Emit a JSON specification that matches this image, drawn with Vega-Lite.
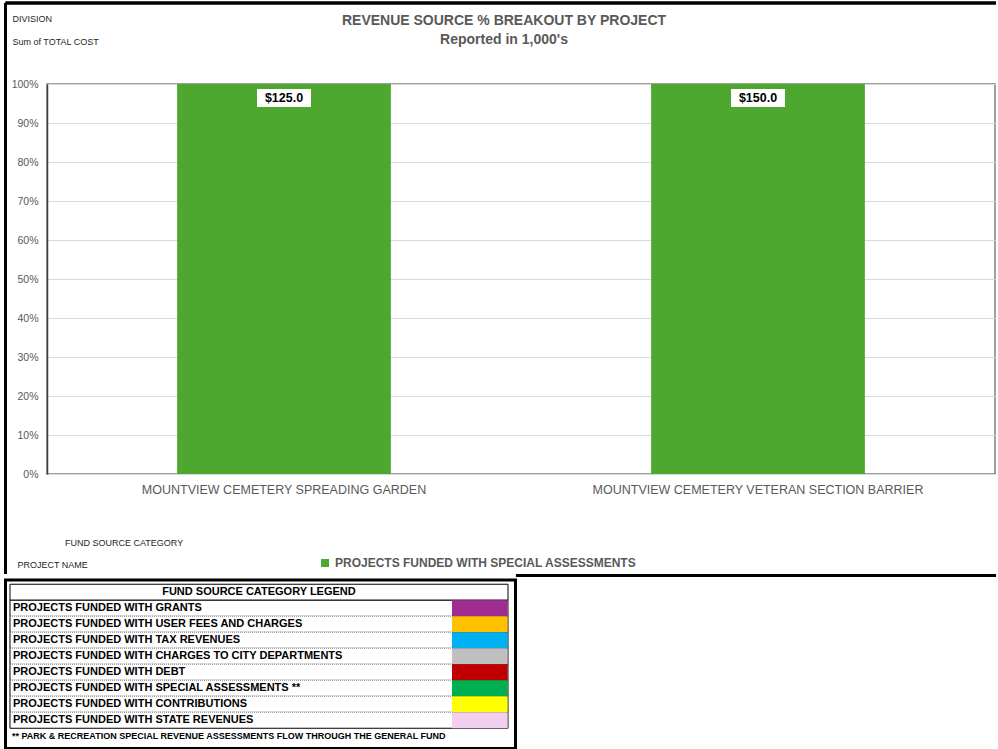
{
  "$schema": "https://vega.github.io/schema/vega-lite/v6.json",
  "background": "white",
  "padding": {"left": 3, "top": 0, "right": 0, "bottom": 0},
  "spacing": 0,
  "resolve": {"scale": {"color": "independent", "x": "independent", "y": "independent"}},
  "config": {"font": "Liberation Sans"},
  "vconcat": [
    {
      "width": 948,
      "height": 390,
      "view": {"stroke": "#808080", "strokeWidth": 1.5},
      "title": {
        "text": "REVENUE SOURCE % BREAKOUT BY PROJECT",
        "subtitle": "Reported in 1,000's",
        "anchor": "middle",
        "dx": -17,
        "offset": -45.5,
        "fontSize": 14,
        "subtitleFontSize": 14,
        "fontWeight": "bold",
        "subtitleFontWeight": "bold",
        "color": "#595959",
        "subtitleColor": "#595959",
        "subtitlePadding": 5,
        "font": "Liberation Sans",
        "subtitleFont": "Liberation Sans"
      },
      "data": {
        "values": [
          {"project": "MOUNTVIEW CEMETERY SPREADING GARDEN", "category": "PROJECTS FUNDED WITH SPECIAL ASSESSMENTS", "cost": 125},
          {"project": "MOUNTVIEW CEMETERY VETERAN SECTION BARRIER", "category": "PROJECTS FUNDED WITH SPECIAL ASSESSMENTS", "cost": 150}
        ]
      },
      "resolve": {"scale": {"x": "independent", "y": "independent"}},
      "layer": [
        {
          "encoding": {
            "x": {
              "field": "project",
              "type": "nominal",
              "sort": null,
              "scale": {"paddingInner": 0.549, "paddingOuter": 0.2745},
              "axis": {
                "title": "PROJECT NAME",
                "titleAlign": "left",
                "titleAnchor": "start",
                "titleX": -30,
                "titleY": 90,
                "titleBaseline": "middle",
                "titleFontSize": 9,
                "titleFontWeight": "normal",
                "titleColor": "#262626",
                "labelAngle": 0,
                "labelFontSize": 12.5,
                "labelColor": "#595959",
                "labelPadding": 9,
                "labelLimit": 400,
                "ticks": false,
                "domainColor": "#d9d9d9",
                "grid": false
              }
            },
            "y": {
              "field": "cost",
              "type": "quantitative",
              "aggregate": "sum",
              "stack": "normalize",
              "scale": {"domain": [0, 1]},
              "axis": {
                "values": [0, 0.1, 0.2, 0.3, 0.4, 0.5, 0.6, 0.7, 0.8, 0.9, 1],
                "format": ".0%",
                "title": ["DIVISION", "Sum of TOTAL COST"],
                "titleAngle": 0,
                "titleAlign": "left",
                "titleBaseline": "top",
                "titleX": -35,
                "titleY": -70,
                "titleFontSize": 9,
                "titleFontWeight": "normal",
                "titleColor": "#262626",
                "titleLineHeight": 23,
                "labelFontSize": 10.5,
                "labelColor": "#595959",
                "labelPadding": 9,
                "ticks": false,
                "domainColor": "#404040",
                "domainWidth": 1.5,
                "gridColor": "#d9d9d9",
                "gridWidth": 1
              }
            }
          },
          "layer": [
            {
              "mark": {"type": "bar"},
              "encoding": {
                "color": {
                  "field": "category",
                  "type": "nominal",
                  "scale": {"domain": ["PROJECTS FUNDED WITH SPECIAL ASSESSMENTS"], "range": ["#4ea72e"]},
                  "legend": {
                    "orient": "none",
                    "legendX": 18,
                    "legendY": 455,
                    "title": "FUND SOURCE CATEGORY",
                    "titleFontSize": 9,
                    "titleFontWeight": "normal",
                    "titleColor": "#262626",
                    "titleFont": "Liberation Sans",
                    "titlePadding": 9,
                    "labelFontSize": 12,
                    "labelFontWeight": "bold",
                    "labelColor": "#595959",
                    "labelFont": "Liberation Sans",
                    "labelLimit": 500,
                    "symbolType": "square",
                    "symbolSize": 64,
                    "symbolOffset": 254,
                    "symbolStrokeWidth": 0
                  }
                }
              }
            },
            {
              "mark": {"type": "point", "shape": "M-1,-0.33H1V0.33H-1Z", "filled": true, "fill": "white", "opacity": 1, "size": 2916, "yOffset": 14, "strokeWidth": 0},
              "encoding": {"detail": {"field": "category"}}
            },
            {
              "mark": {"type": "text", "yOffset": 14, "fontWeight": "bold", "fontSize": 12.5, "color": "black", "font": "Liberation Sans"},
              "encoding": {
                "detail": {"field": "category"},
                "text": {"field": "cost", "aggregate": "sum", "format": "$.1f"}
              }
            }
          ]
        },
        {
          "layer": [
            {
              "mark": {"type": "rule", "color": "black", "strokeWidth": 3},
              "encoding": {
                "x": {"datum": -0.04378, "type": "quantitative", "scale": {"domain": [0, 1], "nice": false, "zero": false}, "axis": null},
                "y": {"datum": 1.2077, "type": "quantitative", "scale": {"domain": [0, 1], "nice": false, "zero": false}, "axis": null},
                "y2": {"datum": -0.25641}
              }
            },
            {
              "mark": {"type": "rule", "color": "black", "strokeWidth": 3},
              "encoding": {
                "x": {"datum": -0.04378, "type": "quantitative"},
                "x2": {"datum": 1.0011},
                "y": {"datum": 1.2077, "type": "quantitative"}
              }
            },
            {
              "mark": {"type": "rule", "color": "black", "strokeWidth": 3},
              "encoding": {
                "x": {"datum": 0.4947, "type": "quantitative"},
                "x2": {"datum": 1.0011},
                "y": {"datum": -0.26026, "type": "quantitative"}
              }
            }
          ]
        }
      ]
    },
    {
      "width": 468.5,
      "height": 168.5,
      "view": {"stroke": null},
      "data": {
        "values": [
          {"row": "FUND SOURCE CATEGORY LEGEND", "kind": "header"},
          {"row": "PROJECTS FUNDED WITH GRANTS", "kind": "item"},
          {"row": "PROJECTS FUNDED WITH USER FEES AND CHARGES", "kind": "item"},
          {"row": "PROJECTS FUNDED WITH TAX REVENUES", "kind": "item"},
          {"row": "PROJECTS FUNDED WITH CHARGES TO CITY DEPARTMENTS", "kind": "item"},
          {"row": "PROJECTS FUNDED WITH DEBT", "kind": "item"},
          {"row": "PROJECTS FUNDED WITH SPECIAL ASSESSMENTS  **", "kind": "item"},
          {"row": "PROJECTS FUNDED WITH CONTRIBUTIONS", "kind": "item"},
          {"row": "PROJECTS FUNDED WITH STATE REVENUES", "kind": "item"},
          {"row": "** PARK & RECREATION SPECIAL REVENUE ASSESSMENTS FLOW THROUGH THE GENERAL FUND", "kind": "note"}
        ]
      },
      "layer": [
        {
          "transform": [{"filter": "datum.kind != 'note'"}],
          "mark": {"type": "rect", "fill": "white", "stroke": "black", "strokeWidth": 1},
          "encoding": {
            "x": {"datum": 0.00882, "type": "quantitative", "scale": {"domain": [0.081373, 1], "nice": false, "zero": false}, "axis": null},
            "x2": {"datum": 0.98529},
            "y": {
              "field": "row",
              "type": "nominal",
              "scale": {
                "domain": [
                  "FUND SOURCE CATEGORY LEGEND",
                  "PROJECTS FUNDED WITH GRANTS",
                  "PROJECTS FUNDED WITH USER FEES AND CHARGES",
                  "PROJECTS FUNDED WITH TAX REVENUES",
                  "PROJECTS FUNDED WITH CHARGES TO CITY DEPARTMENTS",
                  "PROJECTS FUNDED WITH DEBT",
                  "PROJECTS FUNDED WITH SPECIAL ASSESSMENTS  **",
                  "PROJECTS FUNDED WITH CONTRIBUTIONS",
                  "PROJECTS FUNDED WITH STATE REVENUES",
                  "** PARK & RECREATION SPECIAL REVENUE ASSESSMENTS FLOW THROUGH THE GENERAL FUND"
                ],
                "paddingInner": 0,
                "paddingOuter": 0.2656
              },
              "axis": null
            }
          }
        },
        {
          "transform": [{"filter": "datum.kind == 'item' && datum.row != 'PROJECTS FUNDED WITH GRANTS'"}],
          "mark": {"type": "rule", "color": "white", "strokeWidth": 2},
          "encoding": {
            "x": {"datum": 0.0105, "type": "quantitative"},
            "x2": {"datum": 0.8755},
            "y": {"field": "row", "type": "nominal", "bandPosition": 0}
          }
        },
        {
          "transform": [{"filter": "datum.kind == 'item' && datum.row != 'PROJECTS FUNDED WITH GRANTS'"}],
          "mark": {"type": "rule", "color": "#7f7f7f", "strokeWidth": 1, "strokeDash": [1, 1]},
          "encoding": {
            "x": {"datum": 0.00882, "type": "quantitative"},
            "x2": {"datum": 0.8755},
            "y": {"field": "row", "type": "nominal", "bandPosition": 0}
          }
        },
        {
          "transform": [{"filter": "datum.kind == 'item'"}],
          "mark": {"type": "rect"},
          "encoding": {
            "x": {"datum": 0.8755, "type": "quantitative"},
            "x2": {"datum": 0.9843},
            "y": {"field": "row", "type": "nominal"},
            "color": {
              "field": "row",
              "type": "nominal",
              "scale": {
                "domain": [
                  "PROJECTS FUNDED WITH GRANTS",
                  "PROJECTS FUNDED WITH USER FEES AND CHARGES",
                  "PROJECTS FUNDED WITH TAX REVENUES",
                  "PROJECTS FUNDED WITH CHARGES TO CITY DEPARTMENTS",
                  "PROJECTS FUNDED WITH DEBT",
                  "PROJECTS FUNDED WITH SPECIAL ASSESSMENTS  **",
                  "PROJECTS FUNDED WITH CONTRIBUTIONS",
                  "PROJECTS FUNDED WITH STATE REVENUES"
                ],
                "range": ["#a02b93", "#ffc000", "#00b0f0", "#bfbfbf", "#c00000", "#00b050", "#ffff00", "#f2ceef"]
              },
              "legend": null
            }
          }
        },
        {
          "transform": [{"filter": "datum.kind == 'header'"}],
          "mark": {"type": "text", "align": "center", "fontWeight": "bold", "fontSize": 11, "color": "black"},
          "encoding": {
            "x": {"datum": 0.497, "type": "quantitative"},
            "y": {"field": "row", "type": "nominal"},
            "text": {"field": "row"}
          }
        },
        {
          "transform": [{"filter": "datum.kind == 'item'"}],
          "mark": {"type": "text", "align": "left", "dx": 3, "fontWeight": "bold", "fontSize": 11, "color": "black"},
          "encoding": {
            "x": {"datum": 0.00882, "type": "quantitative"},
            "y": {"field": "row", "type": "nominal"},
            "text": {"field": "row"}
          }
        },
        {
          "transform": [{"filter": "datum.kind == 'note'"}],
          "mark": {"type": "text", "align": "left", "dx": 2, "fontWeight": "bold", "fontSize": 9, "color": "black"},
          "encoding": {
            "x": {"datum": 0.00882, "type": "quantitative"},
            "y": {"field": "row", "type": "nominal"},
            "text": {"field": "row"}
          }
        },
        {
          "transform": [{"filter": "datum.kind == 'header'"}],
          "mark": {"type": "rect", "fill": "transparent", "stroke": "black", "strokeWidth": 3},
          "encoding": {
            "x": {"datum": 0, "type": "quantitative"},
            "x2": {"datum": 1}
          }
        }
      ]
    }
  ]
}
